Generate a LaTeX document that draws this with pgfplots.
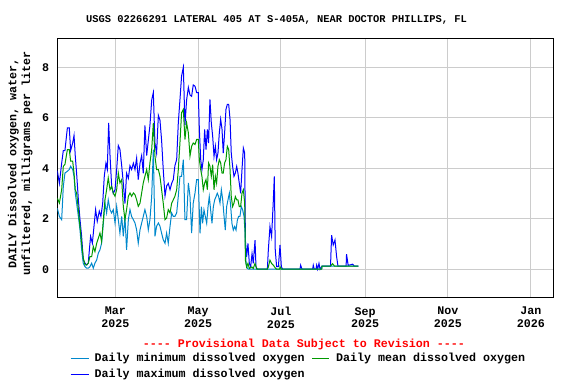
\documentclass[border=0pt]{standalone}
\usepackage{fontspec}
\setmainfont{Liberation Mono}
\usepackage{pgfplots}
\pgfplotsset{compat=1.18}
\definecolor{usgsmax}{RGB}{0,0,255}
\definecolor{usgsmean}{RGB}{0,153,0}
\definecolor{usgsmin}{RGB}{0,136,204}
\definecolor{gridgray}{RGB}{204,204,204}
\newcommand{\lblfont}{\bfseries\fontsize{8.75bp}{9.5bp}\selectfont}
\newcommand{\dsh}{\mbox{-}}

\begin{document}
\begin{tikzpicture}
\useasboundingbox (-43bp,-65.25bp) rectangle (389bp,222.75bp);
\begin{axis}[
  at={(0,0)}, anchor=south west,
  scale only axis, width=372.3bp, height=193.5bp,
  xmin=16.3, xmax=381.9, ymin=-1.10, ymax=9.12,
  xtick={59,120,181,243,304,365},
  xticklabels={{Mar\\2025},{May\\2025},{Jul\\2025},{Sep\\2025},{Nov\\2025},{Jan\\2026}},
  xticklabel style={align=center, font=\lblfont, inner sep=0pt, anchor=north, yshift=-7.5bp},
  ytick={0,2,4,6,8},
  yticklabel style={font=\lblfont, inner sep=0pt, anchor=east, xshift=-6bp},
  /pgf/number format/assume math mode=true,
  grid=major, major grid style={gridgray, line width=0.75bp},
  major tick length=0pt,
  axis line style={line width=0.75bp},
  clip=true,
]
% daily maximum
\addplot[usgsmax, line width=0.75bp] coordinates {
(16.3,3.9)(17.8,3.4)(19.5,4.2)(20.7,4.7)(21.9,4.7)(23.7,5.6)(25.1,5.6)(26.1,4.7)(27.6,5.0)(28.6,5.3)
(29.5,4.5)(30.5,3.8)(31.8,2.75)(33.0,1.96)(34.2,1.3)(35.4,0.37)(36.7,0.24)(37.9,0.17)(39.1,0.24)(39.9,0.77)
(40.8,1.3)(42.1,1.03)(43.3,1.7)(44.5,2.36)(45.7,1.9)(47.2,2.3)(48.4,2.1)(49.7,2.6)(50.9,3.7)(52.1,4.2)
(53.1,3.95)(54.1,5.8)(55.1,4.5)(56.3,3.3)(57.5,3.0)(58.8,3.15)(60.0,3.95)(61.2,4.9)(62.4,4.75)(63.7,4.1)
(64.9,3.4)(66.1,2.6)(67.3,3.8)(68.6,3.6)(69.8,4.1)(71.0,3.95)(72.3,4.2)(73.5,3.95)(74.7,4.4)(75.9,3.55)
(77.2,4.2)(78.4,4.5)(79.6,3.8)(80.8,5.7)(82.1,4.5)(83.3,5.1)(84.5,5.7)(85.8,6.7)(87.0,7.0)(88.2,5.0)
(89.4,4.6)(90.7,6.1)(91.9,5.9)(93.1,5.1)(94.3,3.95)(95.6,2.9)(96.8,3.3)(98.0,3.4)(99.3,3.15)(100.5,3.4)
(101.7,3.55)(102.9,4.1)(104.2,4.35)(105.4,5.8)(106.6,6.7)(107.8,7.65)(109.1,8.0)(110.3,5.7)(111.5,6.7)(112.8,7.2)
(114.0,6.9)(115.2,6.85)(116.4,7.3)(117.7,7.25)(118.9,7.0)(120.1,7.0)(120.9,5.54)(121.9,4.34)(122.8,3.94)(123.8,4.34)
(124.8,5.54)(125.8,4.74)(126.8,5.54)(127.7,5.0)(128.7,6.73)(129.7,5.8)(130.7,5.27)(131.7,4.47)(132.7,4.87)(133.6,4.34)
(134.6,4.6)(135.6,5.4)(136.6,5.94)(137.6,5.54)(138.5,4.6)(139.5,5.4)(140.5,6.33)(141.5,6.53)(142.5,6.53)(143.5,5.94)
(144.4,4.6)(145.4,4.07)(146.4,3.68)(147.4,3.81)(148.4,4.07)(149.3,3.81)(150.3,3.41)(151.3,3.01)(152.3,3.94)(153.3,4.8)
(154.3,4.6)(154.8,1.15)(155.7,0.49)(156.7,1.02)(157.7,0.23)(158.7,0.1)(159.7,0.62)(160.6,0.23)(161.9,1.15)(162.6,0.1)
(163.6,0)(171.0,0)(171.7,0.76)(172.9,1.69)(174.1,1.29)(175.4,2.75)(176.1,3.68)(176.8,0.76)(177.8,0.1)(179.1,0.1)
(180.3,0.96)(181.3,0.1)(182.3,0)(195.0,0)(195.5,0.16)(196.5,0)(204.3,0)(204.8,0.16)(205.5,0)(206.8,0)
(207.3,0.16)(208.0,0)(209.0,0.23)(209.8,0)(211.2,0.12)(217.5,0.12)(218.3,1.35)(219.5,0.96)(220.8,1.16)(222.0,0.49)
(223.0,0.12)(229.0,0.12)(229.3,0.6)(230.5,0.15)(233.8,0.2)(235.0,0.12)(238.0,0.12)
};
% daily minimum
\addplot[usgsmin, line width=0.75bp] coordinates {
(16.3,2.42)(17.8,2.09)(19.5,1.96)(20.7,3.28)(21.9,3.81)(23.7,3.88)(25.1,3.95)(26.1,4.08)(27.6,3.95)(28.6,3.68)
(29.5,3.02)(30.5,2.62)(31.8,2.09)(33.0,1.56)(34.2,0.77)(35.4,0.24)(36.7,0.1)(37.9,0.04)(39.1,0.04)(40.3,0.1)
(41.6,0.24)(42.8,0.04)(44.0,0.24)(45.3,0.37)(46.5,0.64)(47.7,0.77)(48.9,1.03)(50.2,1.83)(51.4,2.62)(52.6,2.23)
(53.8,2.75)(55.1,2.36)(56.3,2.23)(57.5,2.36)(58.8,1.83)(60.0,2.49)(61.2,1.96)(62.4,1.43)(63.7,2.09)(64.9,1.3)
(66.1,2.09)(67.3,0.77)(68.6,1.96)(69.8,2.36)(71.0,2.09)(72.3,1.96)(73.5,1.83)(74.7,1.56)(75.9,1.03)(77.2,1.56)
(78.4,1.83)(79.6,2.09)(80.8,2.36)(82.1,2.09)(83.3,1.56)(84.5,1.96)(85.8,2.89)(87.0,4.74)(88.2,1.3)(89.4,1.7)
(90.7,1.83)(91.9,1.7)(93.1,1.43)(94.3,1.17)(95.6,1.03)(96.8,1.43)(98.0,1.03)(99.3,1.7)(100.5,2.23)(101.7,2.09)
(102.9,2.09)(104.2,2.23)(105.4,2.89)(106.6,3.68)(107.8,3.68)(109.1,4.34)(110.3,1.96)(111.5,1.96)(112.8,3.42)(114.0,2.89)
(115.2,1.43)(116.4,2.62)(117.7,3.02)(118.9,3.55)(120.1,3.55)(121.4,1.42)(122.4,2.48)(123.3,1.82)(124.3,2.35)(125.3,2.09)
(126.3,1.82)(127.3,2.48)(128.2,2.88)(129.2,2.35)(130.2,1.82)(131.2,2.48)(132.2,2.75)(133.2,2.88)(134.1,3.01)(135.1,2.88)
(136.1,2.62)(137.1,3.15)(138.1,2.75)(139.1,2.09)(140.0,1.55)(141.0,2.48)(142.0,2.75)(143.0,3.01)(144.0,2.48)(144.9,1.82)
(145.9,1.55)(146.9,1.69)(147.9,1.55)(148.9,1.95)(149.8,2.09)(150.8,2.09)(151.8,2.48)(152.8,2.35)(153.8,2.09)(154.6,1.42)
(155.3,0.23)(156.3,0.03)(157.3,0)(211.0,0)(211.2,0.12)(238.0,0.12)
};
% daily mean
\addplot[usgsmean, line width=0.75bp] coordinates {
(16.3,2.82)(17.8,2.62)(19.5,3.15)(20.7,4.08)(21.9,4.15)(23.7,4.74)(25.1,4.74)(26.1,4.28)(27.6,4.28)(28.6,3.81)
(29.5,3.15)(30.5,3.02)(31.8,2.36)(33.0,1.7)(34.2,1.03)(35.4,0.44)(36.7,0.17)(37.9,0.17)(39.1,0.24)(40.3,0.5)
(41.6,0.5)(42.8,0.9)(44.0,0.7)(45.3,1.03)(46.5,1.23)(47.7,1.43)(48.9,1.1)(50.2,1.96)(51.4,2.75)(52.6,3.15)
(53.8,3.62)(55.1,3.15)(56.3,3.28)(57.5,3.02)(58.8,2.89)(60.0,3.15)(61.2,3.81)(62.4,3.42)(63.7,3.55)(64.9,2.49)
(66.1,1.96)(67.3,2.36)(68.6,2.89)(69.8,3.02)(71.0,2.89)(72.3,3.02)(73.5,2.95)(74.7,2.75)(75.9,2.49)(77.2,2.62)
(78.4,3.02)(79.6,3.42)(80.8,3.68)(82.1,3.95)(83.3,3.55)(84.5,4.21)(85.8,4.74)(87.0,5.8)(88.2,4.48)(89.4,3.95)
(90.7,3.95)(91.9,3.68)(93.1,3.15)(94.3,2.62)(95.6,1.96)(96.8,2.03)(98.0,2.36)(99.3,2.23)(100.5,2.62)(101.7,2.75)
(102.9,2.89)(104.2,3.15)(105.4,3.95)(106.6,5.0)(107.8,6.2)(109.1,6.33)(110.3,5.14)(111.5,5.8)(112.8,5.4)(114.0,4.48)
(115.2,4.87)(116.4,5.0)(117.7,4.94)(118.9,5.14)(120.1,5.14)(120.9,4.34)(121.9,3.94)(122.8,3.68)(123.8,3.15)(124.8,3.41)
(125.8,3.55)(126.8,3.15)(127.7,4.21)(128.7,4.08)(129.7,3.68)(130.7,4.14)(131.7,3.15)(132.7,3.68)(133.6,3.41)(134.6,4.08)
(135.6,4.34)(136.6,4.21)(137.6,3.81)(138.5,3.81)(139.5,4.21)(140.5,4.34)(141.5,4.87)(142.5,4.74)(143.5,3.94)(144.4,2.88)
(145.4,2.48)(146.4,2.62)(147.4,2.88)(148.4,2.75)(149.3,2.75)(150.3,2.48)(151.3,2.48)(152.3,3.01)(153.3,3.15)(154.3,2.62)
(154.8,0.36)(155.7,0.09)(156.7,0.23)(157.7,0.03)(159.5,0.09)(160.6,0.03)(161.9,0.23)(163.3,0)(171.0,0)(171.7,0.09)
(172.9,0.36)(174.1,0.23)(175.4,0.16)(176.8,0.05)(177.8,0)(180.0,0)(180.3,0.1)(181.3,0)(211.0,0)(211.2,0.12)
(217.5,0.12)(219.0,0.22)(220.5,0.12)(238.0,0.12)
};
\end{axis}
% title, y label, legend
\node[font=\bfseries\fontsize{7.8bp}{9bp}\selectfont, inner sep=0pt] at (164.4bp,207.5bp)
  {USGS 02266291 LATERAL 405 AT S-405A, NEAR DOCTOR PHILLIPS, FL};
\node[font=\lblfont, inner sep=0pt, rotate=90] at (-33bp,100bp) {DAILY Dissolved oxygen, water,};
\node[font=\lblfont, inner sep=0pt, rotate=90] at (-22.8bp,100bp) {unfiltered, milligrams per liter};
\node[font=\lblfont, inner sep=0pt, text=red] at (185bp,-35.3bp)
  {\dsh\dsh\dsh\dsh{} Provisional Data Subject to Revision \dsh\dsh\dsh\dsh};
\draw[draw=usgsmin, line width=0.9bp] (10bp,-46.3bp) -- (23.8bp,-46.3bp);
\node[font=\lblfont, inner sep=0pt, anchor=west] at (27.75bp,-46.3bp) {Daily minimum dissolved oxygen};
\draw[draw=usgsmean, line width=0.9bp] (191.25bp,-46.3bp) -- (204bp,-46.3bp);
\node[font=\lblfont, inner sep=0pt, anchor=west] at (208.8bp,-46.3bp) {Daily mean dissolved oxygen};
\draw[draw=usgsmax, line width=0.9bp] (10bp,-58.3bp) -- (23.8bp,-58.3bp);
\node[font=\lblfont, inner sep=0pt, anchor=west] at (27.75bp,-58.3bp) {Daily maximum dissolved oxygen};
\end{tikzpicture}
\end{document}
